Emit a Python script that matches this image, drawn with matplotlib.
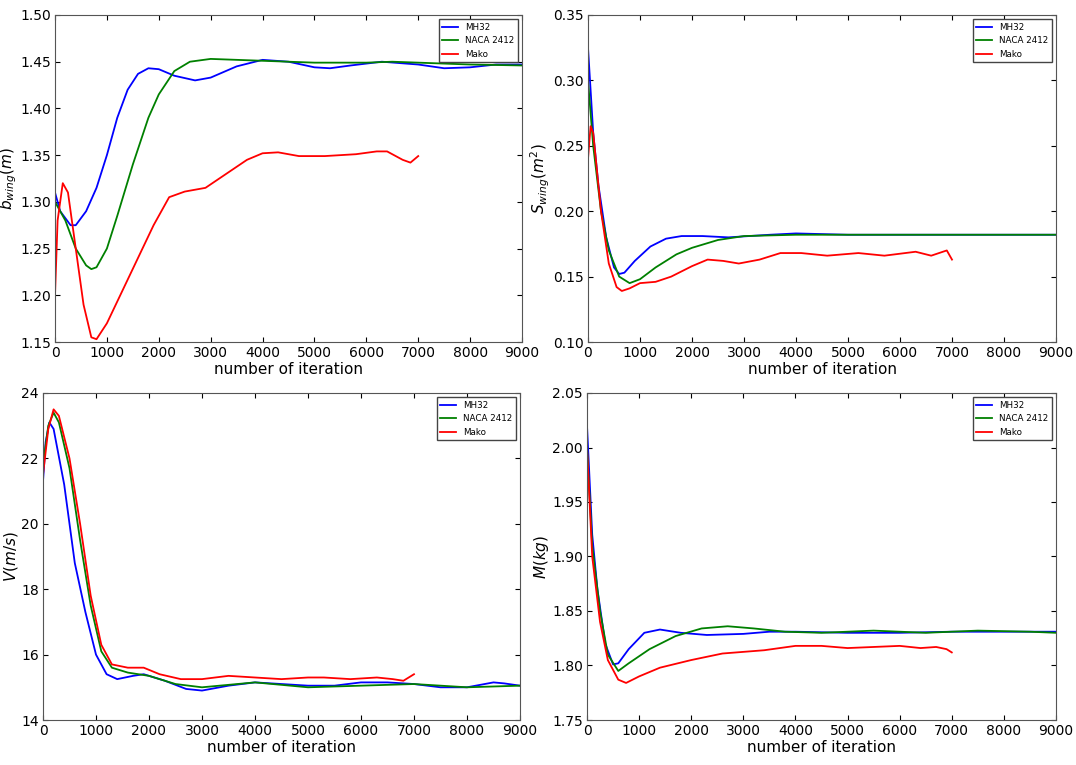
import matplotlib
matplotlib.use('Agg')
import matplotlib.pyplot as plt
import numpy as np

# --- data ---
labels = ['MH32', 'NACA 2412', 'Mako']
colors = ['blue', 'green', 'red']

b_mh32_x = [0, 100, 300, 400, 600, 800, 1000, 1200, 1400, 1600, 1800, 2000, 2300, 2700, 3000, 3500, 4000, 4500, 5000, 5300, 5700, 6300, 7000, 7500, 8000, 8500, 9000]
b_mh32_y = [1.31, 1.29, 1.275, 1.275, 1.29, 1.315, 1.35, 1.39, 1.42, 1.437, 1.443, 1.442, 1.435, 1.43, 1.433, 1.445, 1.452, 1.45, 1.444, 1.443, 1.446, 1.45, 1.447, 1.443, 1.444, 1.447, 1.447]
b_naca_x = [0, 200, 400, 600, 700, 800, 1000, 1200, 1500, 1800, 2000, 2300, 2600, 3000, 4000, 5000, 6000, 6500, 7000, 8000, 9000]
b_naca_y = [1.30, 1.28, 1.25, 1.232, 1.228, 1.23, 1.25, 1.285, 1.34, 1.39, 1.415, 1.44, 1.45, 1.453, 1.451, 1.449, 1.449, 1.45, 1.449, 1.447, 1.446]
b_mako_x = [0, 50, 150, 250, 400, 550, 700, 800, 1000, 1300, 1600, 1900, 2200, 2500, 2900, 3300, 3700, 4000, 4300, 4700, 5200, 5800, 6200, 6400, 6700, 6850, 7000]
b_mako_y = [1.20, 1.28, 1.32, 1.31, 1.25, 1.19, 1.155, 1.153, 1.17, 1.205, 1.24, 1.275, 1.305, 1.311, 1.315, 1.33, 1.345, 1.352, 1.353, 1.349, 1.349, 1.351, 1.354, 1.354, 1.345, 1.342, 1.349]

s_mh32_x = [0, 100, 200, 350, 500, 600, 700, 900, 1200, 1500, 1800, 2200, 2700, 3500, 4000, 5000, 9000]
s_mh32_y = [0.325, 0.26, 0.22, 0.18, 0.157, 0.152, 0.153, 0.162, 0.173, 0.179, 0.181, 0.181, 0.18, 0.182, 0.183, 0.182, 0.182]
s_naca_x = [0, 100, 250, 400, 600, 800, 1000, 1300, 1700, 2000, 2500, 3000, 4000, 9000]
s_naca_y = [0.30, 0.25, 0.20, 0.17, 0.15, 0.145, 0.148, 0.157, 0.167, 0.172, 0.178, 0.181, 0.182, 0.182]
s_mako_x = [0, 50, 100, 250, 400, 550, 650, 800, 1000, 1300, 1600, 2000, 2300, 2600, 2900, 3300, 3700, 4100, 4600, 5200, 5700, 6300, 6600, 6900, 7000]
s_mako_y = [0.24, 0.265, 0.26, 0.2, 0.16, 0.142, 0.139, 0.141, 0.145, 0.146, 0.15, 0.158, 0.163, 0.162, 0.16, 0.163, 0.168, 0.168, 0.166, 0.168, 0.166, 0.169, 0.166, 0.17, 0.163]

v_mh32_x = [0, 50, 120, 200, 400, 600, 800, 1000, 1200, 1400, 1700, 1900, 2300, 2700, 3000, 3500, 4000, 4500, 5000, 5500, 6000, 6500, 7000, 7500, 8000, 8500, 8700, 9000]
v_mh32_y = [21.3, 22.5, 23.1, 22.9, 21.2, 18.8, 17.3, 16.0, 15.4, 15.25, 15.35, 15.4, 15.2, 14.95, 14.9, 15.05, 15.15, 15.1, 15.05, 15.05, 15.15, 15.15, 15.1, 15.0, 15.0, 15.15, 15.12, 15.05]
v_naca_x = [0, 100, 200, 300, 500, 700, 900, 1100, 1300, 1600, 2000, 2500, 3000, 4000, 5000, 6000, 7000, 8000, 9000]
v_naca_y = [21.8, 23.0, 23.4, 23.1, 21.7, 19.5, 17.5, 16.1, 15.6, 15.45, 15.35, 15.1, 15.0, 15.15, 15.0, 15.05, 15.1, 15.0, 15.05]
v_mako_x = [0, 100, 200, 300, 500, 700, 900, 1100, 1300, 1600, 1900, 2200, 2600, 3000, 3500, 4000, 4500, 5000, 5300, 5800, 6300, 6600, 6800, 7000]
v_mako_y = [21.5, 22.9, 23.5, 23.3, 22.0, 20.0, 17.8, 16.3, 15.7, 15.6, 15.6, 15.4, 15.25, 15.25, 15.35, 15.3, 15.25, 15.3, 15.3, 15.25, 15.3, 15.25, 15.2, 15.4]

m_mh32_x = [0, 100, 200, 350, 500, 600, 800, 1100, 1400, 1800, 2300, 3000, 3500, 4000, 5000, 6000, 7000, 8000, 9000]
m_mh32_y = [2.02, 1.92, 1.87, 1.82, 1.801, 1.802, 1.815, 1.83, 1.833, 1.83, 1.828, 1.829, 1.831, 1.831, 1.83, 1.83, 1.831, 1.831, 1.831]
m_naca_x = [0, 100, 250, 400, 600, 800, 1200, 1700, 2200, 2700, 3200, 3800, 4500, 5500, 6500, 7500, 8500, 9000]
m_naca_y = [2.0, 1.91, 1.85, 1.81, 1.795, 1.802, 1.815, 1.827, 1.834, 1.836, 1.834, 1.831, 1.83, 1.832, 1.830, 1.832, 1.831, 1.83]
m_mako_x = [0, 100, 250, 400, 600, 750, 1000, 1400, 2000, 2600, 3400, 4000, 4500, 5000, 5500, 6000, 6400, 6700, 6900, 7000]
m_mako_y = [2.0, 1.9, 1.84, 1.805, 1.787, 1.784, 1.79, 1.798, 1.805, 1.811, 1.814, 1.818, 1.818, 1.816, 1.817, 1.818, 1.816, 1.817, 1.815, 1.812]

panels = [
    ([(b_mh32_x, b_mh32_y), (b_naca_x, b_naca_y), (b_mako_x, b_mako_y)], r'$b_{wing}(m)$', (1.15, 1.50), 0.05, '%.2f'),
    ([(s_mh32_x, s_mh32_y), (s_naca_x, s_naca_y), (s_mako_x, s_mako_y)], r'$S_{wing}(m^2)$', (0.10, 0.35), 0.05, '%.2f'),
    ([(v_mh32_x, v_mh32_y), (v_naca_x, v_naca_y), (v_mako_x, v_mako_y)], r'$V(m/s)$', (14, 24), 2, '%d'),
    ([(m_mh32_x, m_mh32_y), (m_naca_x, m_naca_y), (m_mako_x, m_mako_y)], r'$M(kg)$', (1.75, 2.05), 0.05, '%.2f'),
]

fig = plt.figure(figsize=(10.76, 7.65), dpi=100)
# axes rectangles in pixel units (left, top, right, bottom)
boxes = [(55, 15, 522, 342), (588, 15, 1056, 342), (43, 393, 520, 720), (587, 393, 1056, 720)]
W, H = 1076, 765

for (series, ylabel, ylim, step, fmt), (l, t, r, b) in zip(panels, boxes):
    ax = fig.add_axes([l / W, 1 - b / H, (r - l) / W, (b - t) / H])
    for (xs, ys), c, lab in zip(series, colors, labels):
        ax.plot(xs, ys, color=c, lw=1.3, label=lab)
    ax.set_xlim(0, 9000)
    ax.set_ylim(*ylim)
    ax.set_xticks(range(0, 9001, 1000))
    ticks = np.arange(ylim[0], ylim[1] + step / 2, step)
    ax.set_yticks(ticks)
    ax.set_yticklabels([fmt % v for v in ticks])
    ax.tick_params(direction='in', labelsize=10, top=True, right=True, pad=3)
    for s in ax.spines.values():
        s.set_color('#555555')
    ax.set_xlabel('number of iteration', fontsize=11, labelpad=1)
    ax.set_ylabel(ylabel, fontsize=11, labelpad=1)
    ax.legend(loc='upper right', fontsize=6.3, fancybox=False, framealpha=1,
              edgecolor='#444444', handlelength=1.8, borderaxespad=0.5)

fig.savefig('out.png', dpi=100)
